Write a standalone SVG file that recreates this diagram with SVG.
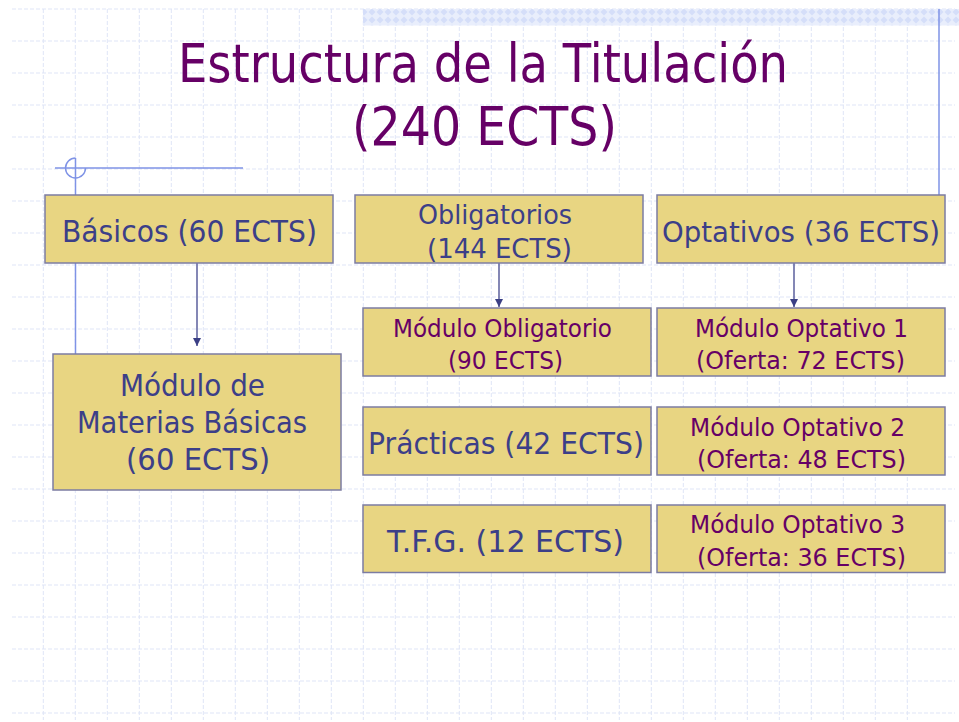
<svg xmlns="http://www.w3.org/2000/svg" width="959" height="722" viewBox="0 0 959 722">
<style>
.grid line{stroke:#dfe5f7;stroke-width:1;stroke-dasharray:4 2}
.deco{stroke:#7f93e6;stroke-width:1.5;fill:none}
.box{fill:#e8d582;stroke:#7c7ca2;stroke-width:1.5}
text{font-family:"DejaVu Sans","Liberation Sans",sans-serif}
.t1{fill:#3c3f88;font-size:30px}
.t2{fill:#3c3f88;font-size:27px}
.t3{fill:#660066;font-size:25px}
.title{fill:#660066;font-size:53px}
.conn line{stroke:#5b5f9c;stroke-width:1.5}
</style>
<defs>
<pattern id="hatch" width="8" height="8" patternUnits="userSpaceOnUse">
<rect width="8" height="8" fill="#e9eefc"/>
<path d="M4,0.5 L7.5,4 L4,7.5 L0.5,4 Z" fill="#d5def9"/>
</pattern>
<marker id="arr" markerWidth="10" markerHeight="10" refX="8" refY="4.5" orient="auto" markerUnits="userSpaceOnUse" viewBox="0 0 10 10">
<path d="M0,0.5 L8,4.5 L0,8.5 Z" fill="#3b3f85"/>
</marker>
</defs>
<rect width="959" height="722" fill="#ffffff"/>
<g class="grid">
<line x1="12" y1="9" x2="955" y2="9"/><line x1="12" y1="41" x2="955" y2="41"/><line x1="12" y1="73" x2="955" y2="73"/><line x1="12" y1="105" x2="955" y2="105"/><line x1="12" y1="137" x2="955" y2="137"/><line x1="12" y1="169" x2="955" y2="169"/><line x1="12" y1="201" x2="955" y2="201"/><line x1="12" y1="233" x2="955" y2="233"/><line x1="12" y1="265" x2="955" y2="265"/><line x1="12" y1="297" x2="955" y2="297"/><line x1="12" y1="329" x2="955" y2="329"/><line x1="12" y1="361" x2="955" y2="361"/><line x1="12" y1="393" x2="955" y2="393"/><line x1="12" y1="425" x2="955" y2="425"/><line x1="12" y1="457" x2="955" y2="457"/><line x1="12" y1="489" x2="955" y2="489"/><line x1="12" y1="521" x2="955" y2="521"/><line x1="12" y1="553" x2="955" y2="553"/><line x1="12" y1="585" x2="955" y2="585"/><line x1="12" y1="617" x2="955" y2="617"/><line x1="12" y1="649" x2="955" y2="649"/><line x1="12" y1="681" x2="955" y2="681"/><line x1="12" y1="713" x2="955" y2="713"/>
<line x1="43.3" y1="9" x2="43.3" y2="720"/><line x1="75.3" y1="9" x2="75.3" y2="720"/><line x1="107.3" y1="9" x2="107.3" y2="720"/><line x1="139.3" y1="9" x2="139.3" y2="720"/><line x1="171.3" y1="9" x2="171.3" y2="720"/><line x1="203.3" y1="9" x2="203.3" y2="720"/><line x1="235.3" y1="9" x2="235.3" y2="720"/><line x1="267.3" y1="9" x2="267.3" y2="720"/><line x1="299.3" y1="9" x2="299.3" y2="720"/><line x1="331.3" y1="9" x2="331.3" y2="720"/><line x1="363.3" y1="9" x2="363.3" y2="720"/><line x1="395.3" y1="9" x2="395.3" y2="720"/><line x1="427.3" y1="9" x2="427.3" y2="720"/><line x1="459.3" y1="9" x2="459.3" y2="720"/><line x1="491.3" y1="9" x2="491.3" y2="720"/><line x1="523.3" y1="9" x2="523.3" y2="720"/><line x1="555.3" y1="9" x2="555.3" y2="720"/><line x1="587.3" y1="9" x2="587.3" y2="720"/><line x1="619.3" y1="9" x2="619.3" y2="720"/><line x1="651.3" y1="9" x2="651.3" y2="720"/><line x1="683.3" y1="9" x2="683.3" y2="720"/><line x1="715.3" y1="9" x2="715.3" y2="720"/><line x1="747.3" y1="9" x2="747.3" y2="720"/><line x1="779.3" y1="9" x2="779.3" y2="720"/><line x1="811.3" y1="9" x2="811.3" y2="720"/><line x1="843.3" y1="9" x2="843.3" y2="720"/><line x1="875.3" y1="9" x2="875.3" y2="720"/><line x1="907.3" y1="9" x2="907.3" y2="720"/>
</g>
<rect x="363" y="9" width="596" height="16.5" fill="url(#hatch)"/>
<g id="decor">
<line class="deco" x1="939" y1="9" x2="939" y2="195"/>
<line class="deco" x1="55" y1="168" x2="243" y2="168"/>
<line class="deco" x1="75.5" y1="158" x2="75.5" y2="354"/>
<path class="deco" d="M75.5,158 A10,10 0 1 0 85.5,168"/>
</g>
<g id="title">
<text class="title" x="178" y="82" textLength="610" lengthAdjust="spacingAndGlyphs">Estructura de la Titulación</text>
<text class="title" x="352" y="145" textLength="265" lengthAdjust="spacingAndGlyphs">(240 ECTS)</text>
</g>
<g class="conn" id="connectors">
<line x1="197" y1="263" x2="197" y2="346" marker-end="url(#arr)"/>
<line x1="499" y1="263" x2="499" y2="307" marker-end="url(#arr)"/>
<line x1="794" y1="263" x2="794" y2="307" marker-end="url(#arr)"/>
</g>
<g id="basicos">
<rect class="box" x="45" y="195" width="288" height="68"/>
<text class="t1" x="62" y="242" textLength="255" lengthAdjust="spacingAndGlyphs">Básicos (60 ECTS)</text>
</g>
<g id="obligatorios">
<rect class="box" x="355" y="195" width="288" height="68"/>
<text class="t2" x="418" y="224" textLength="154" lengthAdjust="spacingAndGlyphs">Obligatorios</text>
<text class="t2" x="427" y="258" textLength="145" lengthAdjust="spacingAndGlyphs">(144 ECTS)</text>
</g>
<g id="optativos">
<rect class="box" x="657" y="195" width="288" height="68"/>
<text class="t1" x="662" y="242" textLength="278" lengthAdjust="spacingAndGlyphs" style="font-size:28px">Optativos (36 ECTS)</text>
</g>
<g id="materias-basicas">
<rect class="box" x="53" y="354" width="288" height="136"/>
<text class="t1" x="120" y="396" textLength="145" lengthAdjust="spacingAndGlyphs">Módulo de</text>
<text class="t1" x="77" y="433" textLength="230" lengthAdjust="spacingAndGlyphs">Materias Básicas</text>
<text class="t1" x="126" y="470" textLength="144" lengthAdjust="spacingAndGlyphs">(60 ECTS)</text>
</g>
<g id="modulo-obligatorio">
<rect class="box" x="363" y="308" width="288" height="68"/>
<text class="t3" x="393" y="337" textLength="219" lengthAdjust="spacingAndGlyphs">Módulo Obligatorio</text>
<text class="t3" x="448" y="369" textLength="115" lengthAdjust="spacingAndGlyphs">(90 ECTS)</text>
</g>
<g id="modulo-optativo-1">
<rect class="box" x="657" y="308" width="288" height="68"/>
<text class="t3" x="695" y="337" textLength="213" lengthAdjust="spacingAndGlyphs">Módulo Optativo 1</text>
<text class="t3" x="696" y="369" textLength="209" lengthAdjust="spacingAndGlyphs">(Oferta: 72 ECTS)</text>
</g>
<g id="practicas">
<rect class="box" x="363" y="407" width="288" height="68"/>
<text class="t1" x="368" y="454" textLength="276" lengthAdjust="spacingAndGlyphs">Prácticas (42 ECTS)</text>
</g>
<g id="modulo-optativo-2">
<rect class="box" x="657" y="407" width="288" height="68"/>
<text class="t3" x="690" y="436" textLength="215" lengthAdjust="spacingAndGlyphs">Módulo Optativo 2</text>
<text class="t3" x="697" y="468" textLength="209" lengthAdjust="spacingAndGlyphs">(Oferta: 48 ECTS)</text>
</g>
<g id="tfg">
<rect class="box" x="363" y="505" width="288" height="67.5"/>
<text class="t1" x="387" y="552" textLength="237" lengthAdjust="spacingAndGlyphs">T.F.G. (12 ECTS)</text>
</g>
<g id="modulo-optativo-3">
<rect class="box" x="657" y="505" width="288" height="67.5"/>
<text class="t3" x="690" y="533" textLength="215" lengthAdjust="spacingAndGlyphs">Módulo Optativo 3</text>
<text class="t3" x="697" y="566" textLength="209" lengthAdjust="spacingAndGlyphs">(Oferta: 36 ECTS)</text>
</g>
</svg>
